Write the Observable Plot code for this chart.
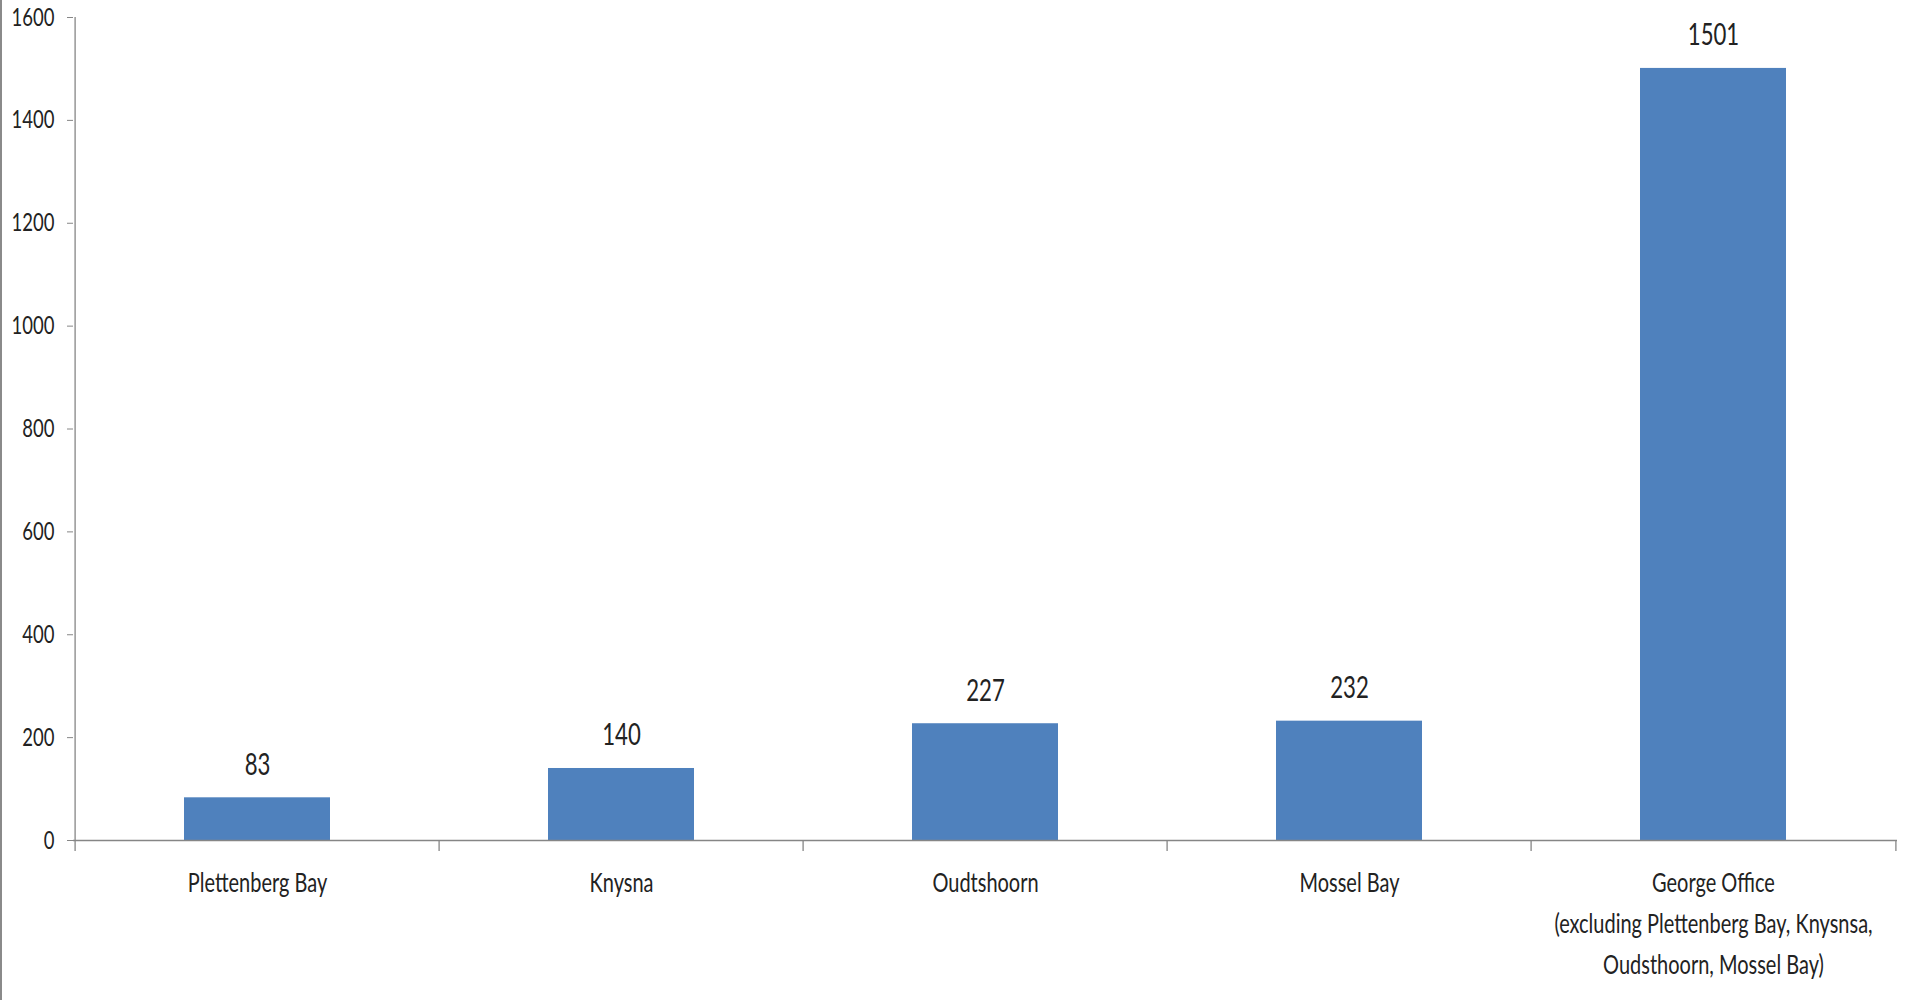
<!DOCTYPE html>
<html>
<head>
<meta charset="utf-8">
<script src="https://cdn.jsdelivr.net/npm/d3@7"></script>
<script src="https://cdn.jsdelivr.net/npm/@observablehq/plot@0.6"></script>
<style>
  html, body { margin: 0; padding: 0; background: #fff; }
  #chart { width: 1915px; height: 1000px; box-sizing: border-box; border-left: 2px solid #8a8a8a; overflow: hidden; }
  #chart svg { display: block; }
</style>
</head>
<body>
<div id="chart"></div>
<script>
// ---- data ----
const categories = ["Plettenberg Bay", "Knysna", "Oudtshoorn", "Mossel Bay", "George Office"];
const values = [83, 140, 227, 232, 1501];
const tickLabels = [
  "Plettenberg Bay",
  "Knysna",
  "Oudtshoorn",
  "Mossel Bay",
  "George Office\n(excluding Plettenberg Bay, Knysnsa,\nOudsthoorn, Mossel Bay)"
];
const yTicks = [0, 200, 400, 600, 800, 1000, 1200, 1400, 1600];

const data = categories.map((c, i) => ({category: c, value: values[i], label: tickLabels[i]}));

// ---- layout ----
const W = 1913, H = 1000;
const mL = 71, mR = 18, mT = 17, mB = 160;
const step = (W - mL - mR) / categories.length;
const innerH = H - mT - mB;
const font = "Lato, 'Open Sans', sans-serif";
const axisColor = "#868686";
const textColor = "#222222";
const condense = 0.74; // horizontal squeeze to mimic the narrow original typeface

const chart = Plot.plot({
  width: W,
  height: H,
  marginLeft: mL,
  marginRight: mR,
  marginTop: mT,
  marginBottom: mB,
  style: {fontFamily: font, background: "#fff", color: textColor, overflow: "visible"},
  x: {domain: categories, paddingInner: 0.6, paddingOuter: 0.3, axis: null},
  y: {domain: [0, 1600], axis: null},
  marks: [
    Plot.barY(data, {x: "category", y: "value", fill: "#4F81BD"}),
    // y axis line
    Plot.ruleX([categories[0]], {dx: -step / 2, stroke: axisColor, strokeWidth: 1.3}),
    // baseline
    Plot.ruleY([0], {stroke: axisColor, strokeWidth: 1.3}),
    // category boundary ticks
    Plot.ruleX(categories, {dx: -step / 2, insetTop: innerH, insetBottom: -11, stroke: axisColor, strokeWidth: 1.3}),
    Plot.ruleX([categories[categories.length - 1]], {dx: step / 2, insetTop: innerH, insetBottom: -11, stroke: axisColor, strokeWidth: 1.3}),
    // y axis ticks + labels
    Plot.axisY({ticks: yTicks, tickSize: 6, tickPadding: 13, fontSize: 25, stroke: axisColor, fill: textColor, tickFormat: d => String(d), label: null}),
    // value labels
    Plot.text(data, {x: "category", y: "value", text: d => String(d.value), lineAnchor: "bottom", dy: -23, fontSize: 30, fill: textColor}),
    // category labels
    Plot.text(data, {x: "category", text: "label", frameAnchor: "bottom", lineAnchor: "top", dy: 22, lineHeight: 1.52, fontSize: 27, fill: textColor})
  ]
});

// squeeze every text horizontally around its own anchor point
chart.querySelectorAll("text").forEach(t => {
  let ox = parseFloat(t.getAttribute("x"));
  if (!isFinite(ox)) ox = 0;
  const tr = t.getAttribute("transform") || "";
  t.setAttribute("transform", `${tr} translate(${ox},0) scale(${condense},1) translate(${-ox},0)`.trim());
});

document.getElementById("chart").appendChild(chart);
</script>
</body>
</html>
